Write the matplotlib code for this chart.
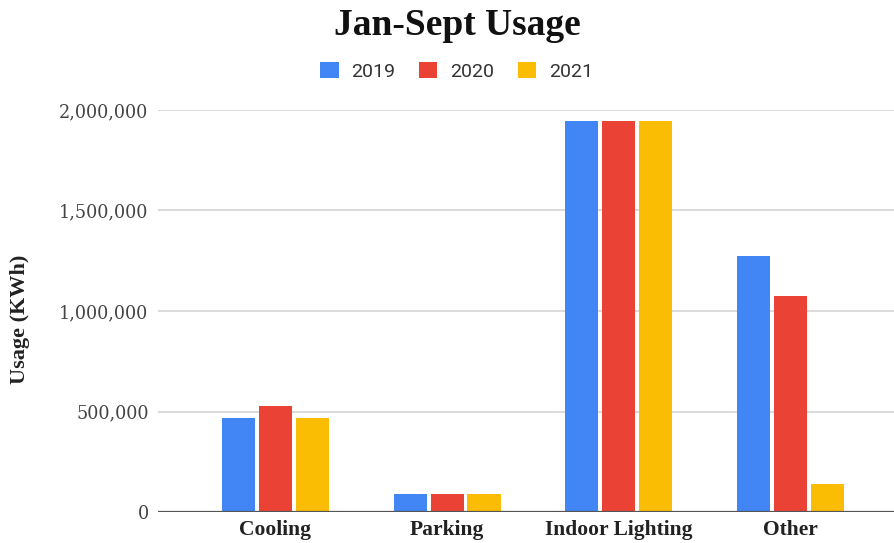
import matplotlib.pyplot as plt
import numpy as np
from matplotlib.ticker import FuncFormatter

categories = ["Cooling", "Parking", "Indoor Lighting", "Other"]
years = ["2019", "2020", "2021"]
usage_2019 = [470000, 90000, 1945000, 1275000]
usage_2020 = [525000, 90000, 1945000, 1075000]
usage_2021 = [470000, 90000, 1945000, 140000]
colors = ["#4285F4", "#EA4335", "#FBBC04"]

fig = plt.figure(figsize=(8.94, 5.43), dpi=100)
ax = fig.add_axes([0.177, 0.057, 0.823, 0.7405])

x = np.arange(len(categories))
width = 0.192
pitch = 0.215
series = [usage_2019, usage_2020, usage_2021]
for i, (vals, c, lab) in enumerate(zip(series, colors, years)):
    ax.bar(x + (i - 1) * pitch, vals, width, color=c, label=lab, zorder=3)

ax.set_ylim(0, 2000000)
ax.set_xlim(-0.68, 3.6)
ax.set_yticks([0, 500000, 1000000, 1500000, 2000000])
ax.yaxis.set_major_formatter(FuncFormatter(lambda v, p: f"{int(v):,}"))
ax.grid(axis="y", color="#d4d4d4", linewidth=1.2, zorder=0)
ax.axhline(0, color="#555555", linewidth=1.6, zorder=4)
for s in ax.spines.values():
    s.set_visible(False)
ax.tick_params(axis="both", length=0)
ax.tick_params(axis="y", pad=7)
ax.tick_params(axis="x", pad=6)

ax.set_xticks(x)
ax.set_xticklabels(categories, fontfamily="Liberation Serif", fontweight="bold", fontsize=15.5, color="#222222")
for t in ax.get_yticklabels():
    t.set_fontfamily("DejaVu Serif")
    t.set_fontsize(12.7)
    t.set_color("#444444")

fig.text(0.022, 0.412, "Usage (KWh)", rotation=90, ha="center", va="center",
         fontfamily="Liberation Serif", fontweight="bold", fontsize=16, color="#222222")
fig.text(0.512, 0.9355, "Jan-Sept Usage", ha="center", va="baseline",
         fontfamily="Liberation Serif", fontweight="bold", fontsize=27, color="#111111")

leg = fig.legend(loc="center", bbox_to_anchor=(0.511, 0.869), ncol=3, frameon=False,
                 handlelength=0.93, handleheight=0.95, handletextpad=0.67, columnspacing=1.22,
                 prop={"family": "Roboto", "size": 14})
for t in leg.get_texts():
    t.set_color("#333333")

fig.savefig("out.png", dpi=100)
